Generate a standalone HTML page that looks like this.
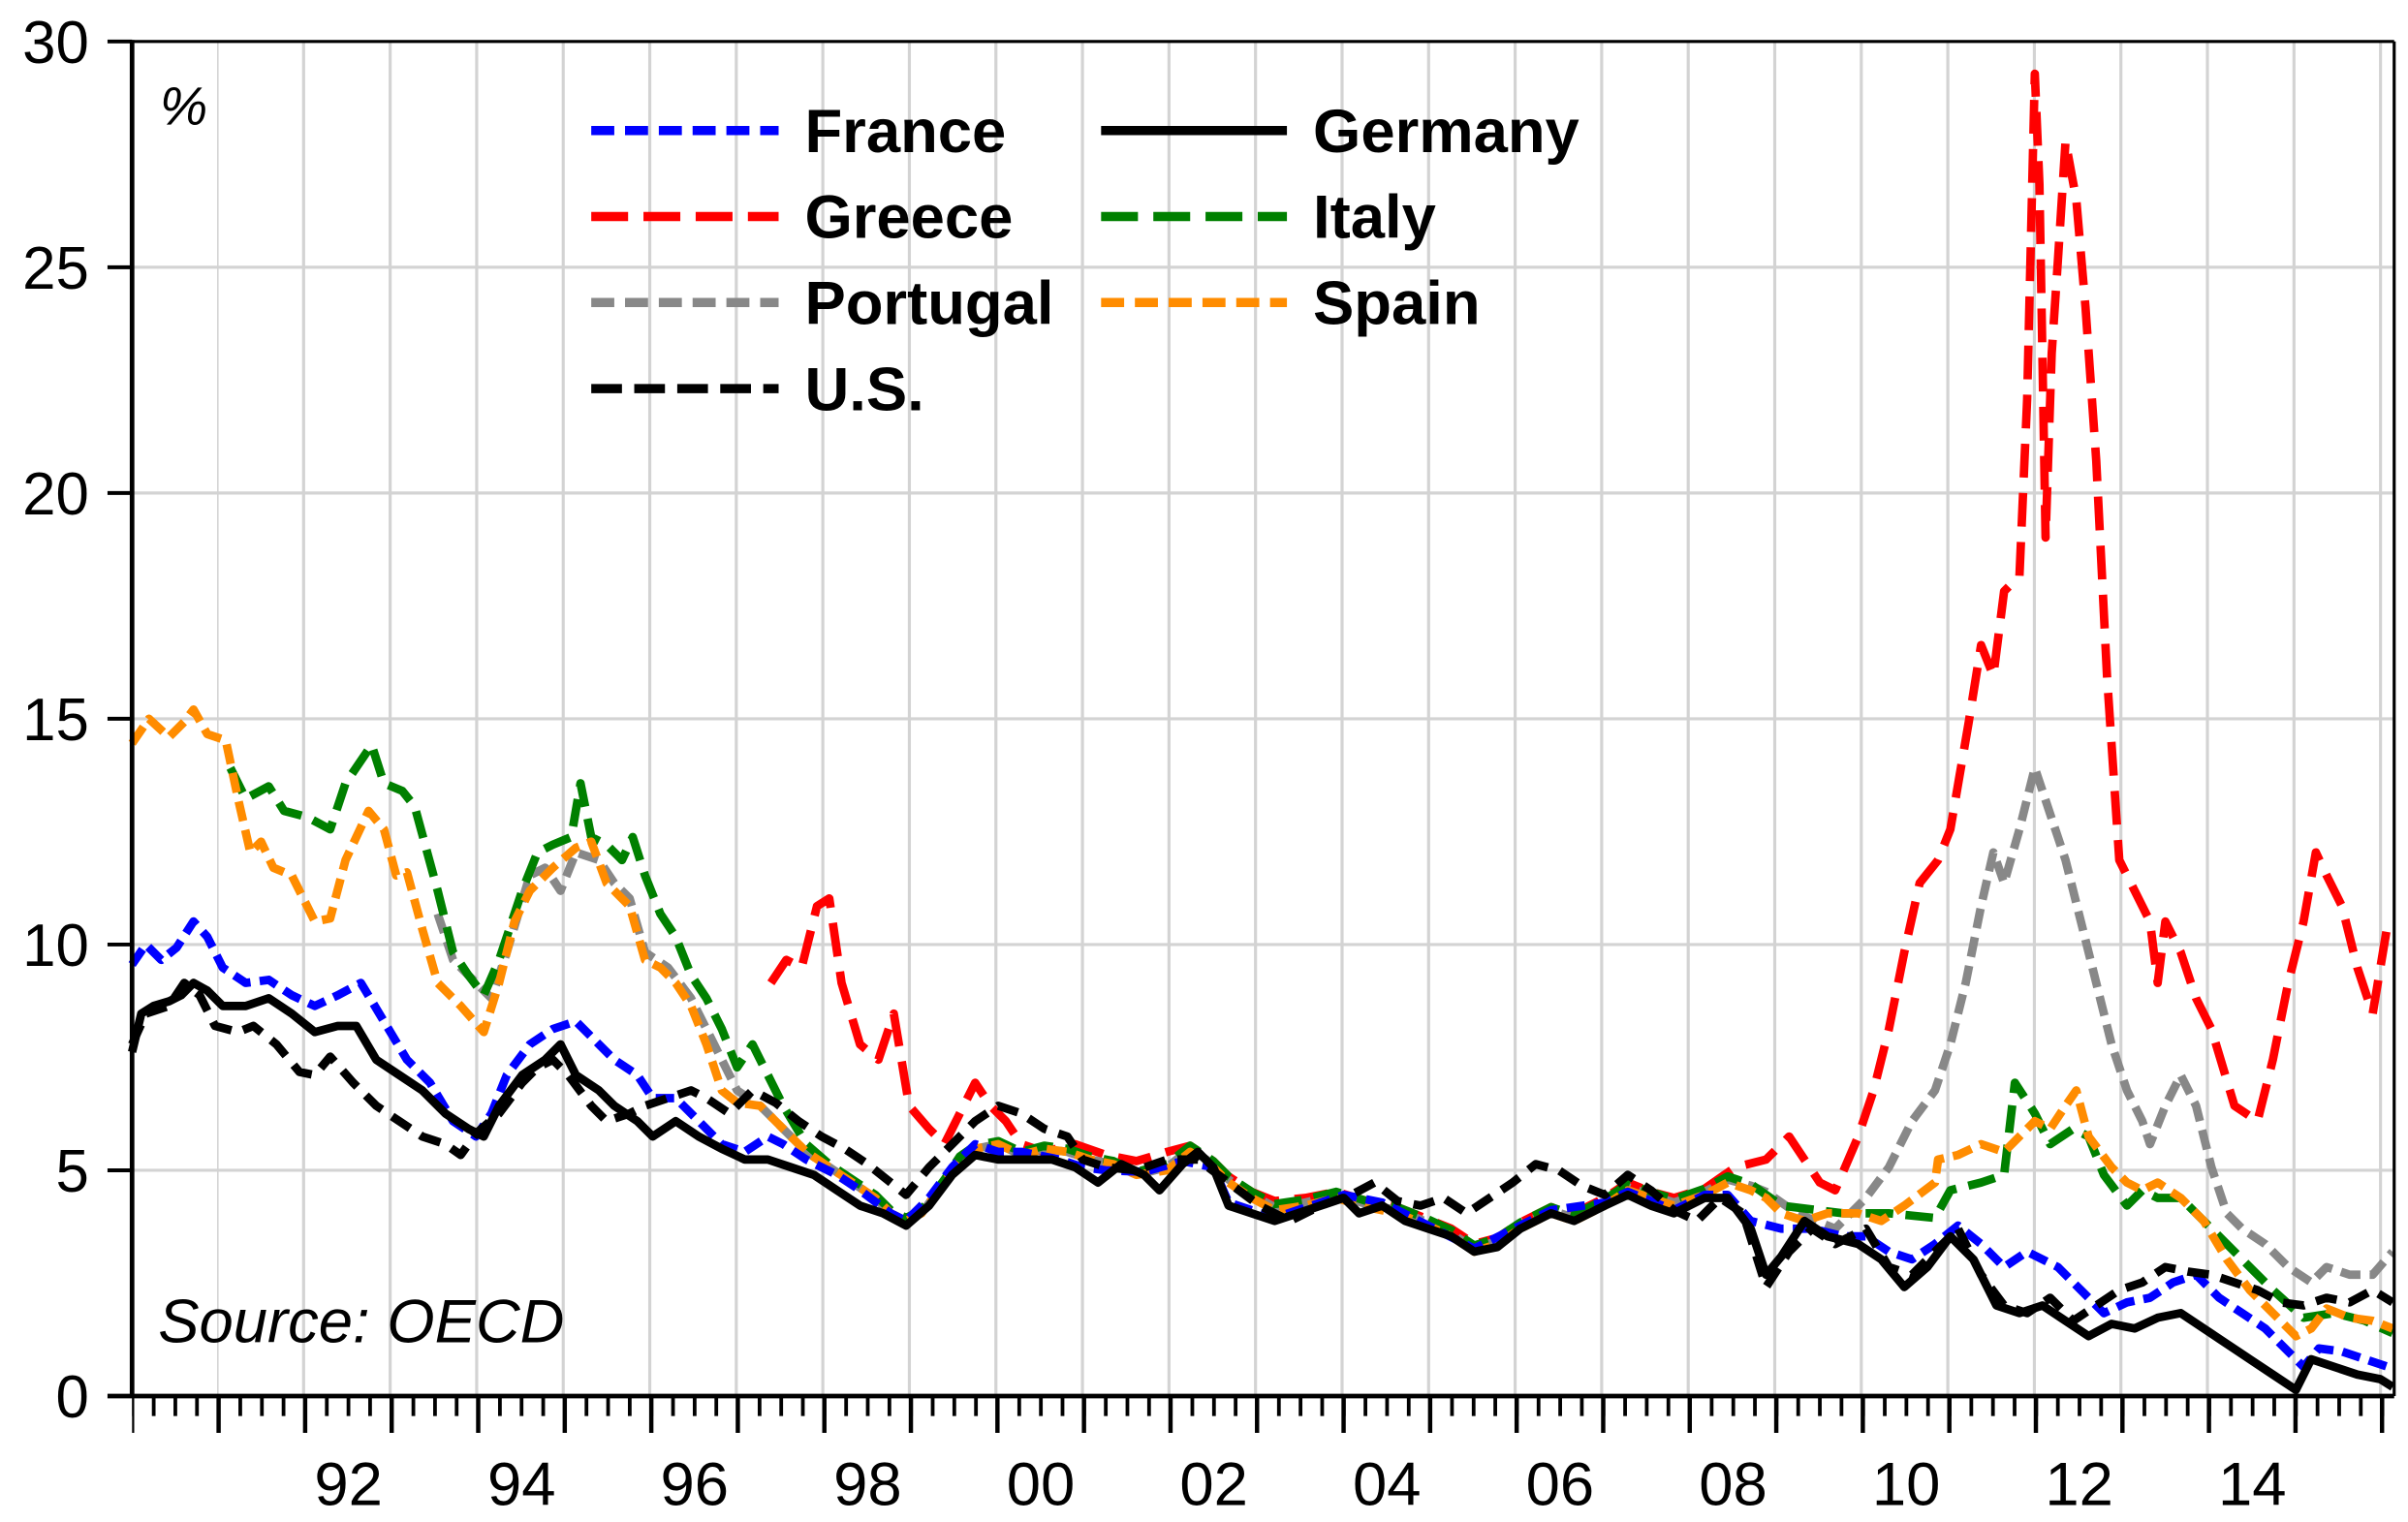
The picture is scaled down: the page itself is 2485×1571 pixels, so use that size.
<!DOCTYPE html>
<html><head><meta charset="utf-8"><style>
html,body{margin:0;padding:0;background:#fff;}
svg{display:block;}
text{font-family:"Liberation Sans",Arial,sans-serif;}
</style></head><body>
<svg width="2485" height="1571" viewBox="0 0 1568 991" preserveAspectRatio="none" xmlns="http://www.w3.org/2000/svg">
<rect width="1568" height="991" fill="#fff"/>
<g stroke="#d3d3d3" stroke-width="2" fill="none">
<line x1="141.35" y1="468" x2="1559" y2="468" stroke-width="882" stroke-dasharray="2 54.35" stroke-dashoffset="1"/>
<line x1="86" y1="762" x2="1559" y2="762"/>
<line x1="86" y1="615" x2="1559" y2="615"/>
<line x1="86" y1="468" x2="1559" y2="468"/>
<line x1="86" y1="321" x2="1559" y2="321"/>
<line x1="86" y1="174" x2="1559" y2="174"/>
</g>
<g fill="none" stroke-width="5.5" stroke-linejoin="round">
<polyline stroke="#ff0000" stroke-dasharray="22 10" points="502,640 512,625 522,630 532,590 540,585 548,640 560,680 572,690 582,660 592,720 605,735 615,745 625,725 635,705 645,720 655,730 665,745 680,750 700,745 720,752 740,756 760,750 775,746 790,756 800,766 815,776 830,782 850,780 870,776 890,782 910,786 930,794 945,800 960,810 975,806 990,796 1010,786 1025,790 1045,780 1060,770 1075,776 1090,780 1110,774 1130,760 1150,755 1165,740 1175,755 1185,770 1195,775 1210,740 1220,710 1230,670 1240,620 1250,575 1262,560 1270,540 1282,470 1290,420 1298,440 1305,385 1315,375 1320,260 1325,48 1328,120 1332,350 1336,230 1340,170 1345,92 1352,130 1358,200 1365,300 1372,440 1380,560 1390,580 1400,600 1405,640 1410,600 1420,620 1430,650 1440,670 1455,720 1470,730 1480,690 1490,640 1500,600 1508,555 1515,570 1525,590 1535,630 1545,660 1555,600"/>
<polyline stroke="#888888" stroke-dasharray="13 6" points="285,595 295,625 310,640 320,650 330,620 345,570 355,565 365,580 375,555 390,560 400,575 410,585 420,620 435,630 450,650 465,680 480,710 495,720 510,735 525,750 540,760 555,770 570,780 580,790 590,795 600,790 615,770 625,755 635,748 650,745 665,752 680,748 695,750 710,755 725,758 740,765 760,760 775,748 790,758 800,768 815,778 830,786 850,783 870,778 890,784 910,788 930,796 945,803 960,813 975,808 990,798 1010,788 1025,793 1045,783 1060,773 1075,778 1090,783 1110,776 1125,768 1140,772 1150,776 1170,790 1195,800 1215,780 1230,760 1245,730 1260,710 1270,680 1280,640 1290,590 1298,555 1305,575 1315,540 1325,500 1335,530 1345,560 1355,600 1365,640 1375,680 1385,710 1395,730 1400,745 1410,720 1420,700 1430,720 1440,760 1450,790 1460,800 1475,810 1490,825 1505,835 1515,825 1530,830 1545,830 1558,815"/>
<polyline stroke="#008000" stroke-dasharray="18 8" points="150,500 160,520 175,512 185,528 200,532 215,540 225,510 242,485 250,510 262,515 270,525 285,580 295,620 305,635 315,648 325,625 340,580 350,555 360,550 372,545 378,510 385,545 395,550 405,560 412,545 420,570 430,595 440,610 450,635 460,650 470,670 480,695 490,680 500,700 510,720 525,745 540,758 555,768 570,778 580,788 590,793 600,788 615,768 625,753 635,746 650,743 665,750 680,746 695,748 710,753 725,756 740,763 760,758 775,746 790,756 800,766 815,776 830,784 850,781 870,776 890,782 910,786 930,794 945,801 960,811 975,806 990,796 1010,786 1025,791 1045,781 1060,771 1075,776 1090,781 1110,774 1125,766 1140,771 1160,785 1200,790 1230,790 1260,793 1270,775 1290,770 1305,765 1312,705 1325,725 1335,745 1350,735 1360,740 1370,765 1385,785 1395,775 1405,780 1420,780 1440,800 1460,820 1480,840 1500,858 1520,855 1540,860 1558,868"/>
<polyline stroke="#ff8c00" stroke-dasharray="13 6" points="86,484 97,468 110,480 120,470 126,462 135,478 147,482 155,520 163,555 170,548 178,565 190,570 205,600 215,598 225,560 240,528 250,540 258,570 265,568 275,605 285,640 300,655 315,672 325,640 335,600 345,580 360,565 375,552 385,548 395,575 410,590 420,625 430,630 440,640 450,655 460,680 470,710 480,718 495,720 510,735 525,750 540,760 555,770 570,780 580,790 590,795 600,790 615,770 625,755 635,748 650,745 665,752 680,748 695,750 710,755 725,758 740,765 760,762 775,750 790,760 800,770 815,780 830,788 850,785 870,780 890,786 910,790 930,798 945,805 960,815 975,810 990,800 1010,790 1025,795 1045,785 1060,775 1075,780 1090,785 1110,778 1125,770 1140,775 1150,780 1160,790 1175,795 1190,790 1210,790 1225,795 1240,785 1260,770 1262,755 1275,752 1290,745 1305,750 1315,740 1325,730 1335,735 1345,720 1352,710 1360,740 1375,760 1385,770 1395,775 1405,770 1420,780 1435,795 1450,820 1465,840 1480,855 1495,870 1505,865 1515,852 1530,858 1545,860 1558,865"/>
<polyline stroke="#0000ff" stroke-dasharray="12 6" points="86,628 95,615 105,625 115,617 126,600 135,610 145,630 160,640 175,638 190,648 205,655 220,648 235,640 250,665 265,690 280,705 295,730 310,740 320,725 330,700 345,680 360,670 375,665 385,675 400,690 415,700 425,715 440,715 455,730 470,745 485,750 500,740 510,745 525,755 545,765 560,775 580,790 590,795 605,780 620,760 635,745 650,750 665,750 690,755 705,760 720,762 745,763 770,756 790,760 800,783 815,788 830,793 845,788 860,783 875,778 900,783 930,798 960,813 990,798 1010,788 1045,783 1060,776 1090,788 1110,778 1125,778 1140,795 1160,800 1180,800 1200,805 1215,805 1230,815 1245,820 1260,810 1275,798 1290,810 1305,825 1320,815 1340,825 1355,840 1370,855 1385,848 1400,845 1415,835 1430,830 1445,845 1460,855 1475,865 1490,880 1500,890 1510,878 1525,880 1540,885 1555,890"/>
<polyline stroke="#000" stroke-dasharray="14 8" points="86,680 95,660 110,655 120,640 130,648 140,668 155,672 165,668 180,680 195,698 205,700 215,688 230,705 245,720 260,730 275,740 290,745 300,752 310,738 325,725 340,705 350,695 360,690 370,700 385,720 395,730 410,725 420,720 435,715 450,710 460,715 475,725 490,710 505,718 520,730 535,740 550,748 565,758 580,770 590,778 605,760 620,745 635,730 650,720 665,725 680,735 695,740 705,755 720,760 740,762 760,755 780,755 800,770 820,785 840,795 860,785 880,778 895,770 910,782 925,785 940,780 955,790 970,780 985,770 1000,758 1015,762 1030,772 1045,778 1060,765 1075,775 1090,788 1105,795 1120,780 1135,790 1150,838 1165,815 1180,800 1195,810 1215,800 1230,825 1245,830 1260,815 1275,800 1290,830 1305,850 1320,855 1335,845 1350,860 1365,850 1380,840 1395,835 1410,825 1425,828 1440,830 1455,835 1470,840 1485,848 1500,850 1515,845 1530,848 1545,840 1558,848"/>
<polyline stroke="#000" points="86,685 92,660 100,655 110,652 118,648 126,640 135,645 145,655 160,655 175,650 190,660 205,672 220,668 232,668 245,690 260,700 275,710 290,725 305,735 315,740 325,720 340,700 355,690 365,680 375,700 390,710 400,720 415,730 425,740 440,730 455,740 470,748 485,755 500,755 515,760 530,765 545,775 560,785 575,790 590,798 605,785 620,765 635,752 650,755 665,755 685,755 700,760 715,770 730,758 745,765 755,775 770,758 780,750 790,760 800,785 815,790 830,795 845,790 860,785 875,780 885,790 900,785 915,795 930,800 945,805 960,815 975,812 990,800 1010,790 1025,795 1045,785 1060,778 1075,785 1090,790 1110,780 1125,780 1140,800 1150,830 1160,818 1175,795 1190,805 1210,810 1225,820 1240,838 1255,825 1270,805 1285,820 1300,850 1315,855 1330,850 1345,860 1360,870 1375,862 1390,865 1405,858 1420,855 1435,865 1450,875 1465,885 1480,895 1495,905 1505,885 1520,890 1535,895 1550,898 1558,903"/>
</g>
<g stroke="#000" fill="none">
<line x1="86" y1="27" x2="1559" y2="27" stroke-width="2"/>
<line x1="1559" y1="27" x2="1559" y2="909" stroke-width="2"/>
<line x1="86" y1="26" x2="86" y2="910" stroke-width="3"/>
<line x1="70" y1="909" x2="1559" y2="909" stroke-width="3"/>
<line x1="70" y1="762" x2="86" y2="762" stroke-width="2.5"/>
<line x1="70" y1="615" x2="86" y2="615" stroke-width="2.5"/>
<line x1="70" y1="468" x2="86" y2="468" stroke-width="2.5"/>
<line x1="70" y1="321" x2="86" y2="321" stroke-width="2.5"/>
<line x1="70" y1="174" x2="86" y2="174" stroke-width="2.5"/>
<line x1="70" y1="27" x2="86" y2="27" stroke-width="2.5"/>
<line x1="86" y1="915.5" x2="1559" y2="915.5" stroke-width="13" stroke-dasharray="2.4 11.69" stroke-dashoffset="1.2"/>
<line x1="86" y1="921" x2="1559" y2="921" stroke-width="24" stroke-dasharray="2.8 53.55" stroke-dashoffset="1.4"/>
</g>
<g font-size="39" text-anchor="end" fill="#000">
<text x="58" y="923">0</text>
<text x="58" y="776">5</text>
<text x="58" y="629">10</text>
<text x="58" y="482">15</text>
<text x="58" y="335">20</text>
<text x="58" y="188">25</text>
<text x="58" y="41">30</text>
</g>
<g font-size="40" text-anchor="middle" fill="#000">
<text x="226.9" y="980">92</text>
<text x="339.6" y="980">94</text>
<text x="452.3" y="980">96</text>
<text x="565" y="980">98</text>
<text x="677.7" y="980">00</text>
<text x="790.4" y="980">02</text>
<text x="903.1" y="980">04</text>
<text x="1015.8" y="980">06</text>
<text x="1128.5" y="980">08</text>
<text x="1241.2" y="980">10</text>
<text x="1353.9" y="980">12</text>
<text x="1466.6" y="980">14</text>
</g>
<text x="104" y="81" font-size="35" font-style="italic">%</text>
<text x="103" y="874" font-size="40" font-style="italic">Source: OECD</text>
<g stroke-width="6" fill="none">
<line x1="385" y1="85" x2="507" y2="85" stroke="#0000ff" stroke-dasharray="15 7"/>
<line x1="385" y1="141" x2="507" y2="141" stroke="#ff0000" stroke-dasharray="24 10"/>
<line x1="385" y1="197" x2="507" y2="197" stroke="#888" stroke-dasharray="15 7"/>
<line x1="385" y1="253" x2="507" y2="253" stroke="#000" stroke-dasharray="20 8"/>
<line x1="717" y1="85" x2="838" y2="85" stroke="#000"/>
<line x1="717" y1="141" x2="838" y2="141" stroke="#008000" stroke-dasharray="24 10"/>
<line x1="717" y1="197" x2="838" y2="197" stroke="#ff8c00" stroke-dasharray="15 7"/>
</g>
<g font-size="40" font-weight="bold" fill="#000">
<text x="524" y="99">France</text>
<text x="524" y="155">Greece</text>
<text x="524" y="211">Portugal</text>
<text x="524" y="267">U.S.</text>
<text x="855" y="99">Germany</text>
<text x="855" y="155">Italy</text>
<text x="855" y="211">Spain</text>
</g>
</svg>
</body></html>
